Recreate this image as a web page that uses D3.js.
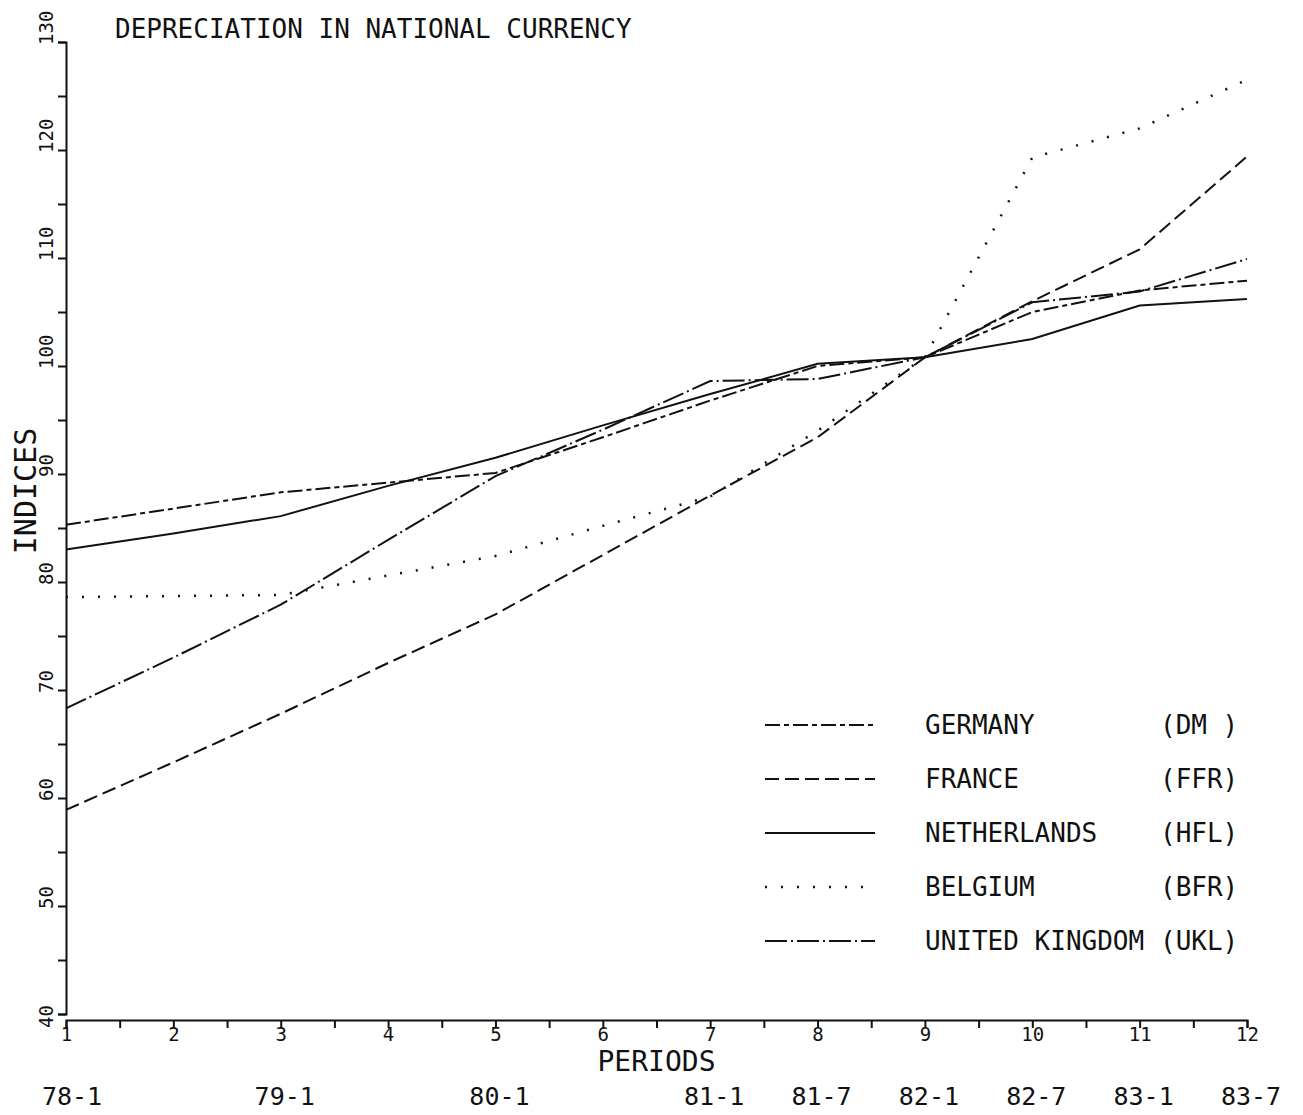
<!DOCTYPE html>
<html>
<head>
<meta charset="utf-8">
<script src="https://cdn.jsdelivr.net/npm/d3@7"></script>
<style>
  body { margin: 0; background: #fff; }
  svg { display: block; }
  text { font-family: "DejaVu Sans Mono", monospace; fill: #111; }
</style>
</head>
<body>
<div id="chart"></div>
<script>
        /* Chart data */
        var periods = [1, 2, 3, 4, 5, 6, 7, 8, 9, 10, 11, 12];
        var dateLabels = ["78-1", "", "79-1", "", "80-1", "", "81-1", "81-7", "82-1", "82-7", "83-1", "83-7"];
        var yLabelValues = [40, 50, 60, 70, 80, 90, 100, 110, 120, 130];

        var germany       = [85.3, 86.8, 88.3, 89.2, 90.1, 93.4, 96.8, 100.0, 100.8, 105.0, 107.0, 107.9];
        var france        = [58.9, 63.3, 67.8, 72.5, 77.0, 82.5, 88.0, 93.4, 100.8, 106.0, 110.8, 119.4];
        var netherlands   = [83.0, 84.5, 86.1, 88.9, 91.5, 94.5, 97.4, 100.2, 100.8, 102.5, 105.6, 106.2];
        var belgium       = [78.6, 78.7, 78.8, 80.6, 82.4, 85.2, 87.9, 94.0, 100.8, 119.3, 122.0, 126.5];
        var unitedKingdom = [68.3, 73.0, 77.9, 83.9, 89.8, 94.1, 98.6, 98.8, 100.8, 105.9, 106.9, 109.9];

        var seriesNames = ["GERMANY", "FRANCE", "NETHERLANDS", "BELGIUM", "UNITED KINGDOM"];
        var seriesCodes = ["(DM )", "(FFR)", "(HFL)", "(BFR)", "(UKL)"];

        /* line style per series (plotter pens) */
        var dashes = ["15,4,5,4", "14,6", null, "2,14", "22,4,2,4"];

        var W = 1303, H = 1115;

        var svg = d3.select("#chart").append("svg")
            .attr("width", W)
            .attr("height", H);

        svg.append("rect").attr("width", W).attr("height", H).attr("fill", "#fff");

        var x = d3.scaleLinear().domain([1, 12]).range([66, 1247]);
        var y = d3.scaleLinear().domain([40, 130]).range([1014, 42]);

        /* y axis: ticks every 5, labels every 10 drawn rotated */
        var yAxis = d3.axisLeft(y)
            .tickValues(d3.range(40, 131, 5))
            .tickSize(8)
            .tickSizeOuter(8)
            .tickFormat("");

        var gy = svg.append("g")
            .attr("transform", "translate(" + x(1) + ",0)")
            .call(yAxis);
        gy.selectAll("path, line").attr("stroke", "#111").attr("stroke-width", 2);

        svg.selectAll(".ylab")
            .data(yLabelValues)
            .enter()
            .append("text")
            .attr("class", "ylab")
            .attr("font-size", 19)
            .attr("text-anchor", "start")
            .attr("transform", function(d) {
                var yy = y(d) + (d == 40 ? 14 : 3);
                return "translate(53," + yy + ") rotate(-90)";
            })
            .text(function(d) { return d; });

        /* x axis: ticks every half period */
        var xAxis = d3.axisBottom(x)
            .tickValues(d3.range(1, 12.01, 0.5))
            .tickSize(8)
            .tickSizeOuter(8)
            .tickPadding(0)
            .tickFormat(function(d) { return d % 1 == 0 ? d : ""; });

        var gx = svg.append("g")
            .attr("transform", "translate(0," + (y(40) + 6) + ")")
            .call(xAxis);
        gx.selectAll("path, line").attr("stroke", "#111").attr("stroke-width", 2);
        gx.selectAll("text")
            .attr("font-family", "DejaVu Sans Mono, monospace")
            .attr("font-size", 19)
            .attr("fill", "#111");

        /* axis titles */
        svg.append("text")
            .attr("x", (x(1) + x(12)) / 2)
            .attr("y", 1071)
            .attr("text-anchor", "middle")
            .attr("font-size", 28)
            .text("PERIODS");

        svg.append("text")
            .attr("transform", "translate(36,491) rotate(-90)")
            .attr("text-anchor", "middle")
            .attr("font-size", 30)
            .text("INDICES");

        svg.append("text")
            .attr("x", 115)
            .attr("y", 38)
            .attr("font-size", 26)
            .text("DEPRECIATION IN NATIONAL CURRENCY");

        /* date row under the axis */
        svg.selectAll(".date")
            .data(dateLabels)
            .enter()
            .append("text")
            .attr("class", "date")
            .attr("x", function(d, i) { return x(periods[i]) + (i == 0 ? 6 : 4); })
            .attr("y", 1105)
            .attr("text-anchor", "middle")
            .attr("font-size", 25)
            .text(function(d) { return d; });

        /* series lines */
        var allSeries = [germany, france, netherlands, belgium, unitedKingdom];

        var line = d3.line()
            .x(function(d, i) { return x(periods[i]); })
            .y(function(d) { return y(d); });

        svg.selectAll(".series")
            .data(allSeries)
            .enter()
            .append("path")
            .attr("class", "series")
            .attr("d", line)
            .attr("fill", "none")
            .attr("stroke", "#111")
            .attr("stroke-width", function(d, i) { return i == 3 ? 2.5 : 2; })
            .attr("stroke-dasharray", function(d, i) { return dashes[i]; });

        /* legend */
        var legend = svg.selectAll(".legend")
            .data(seriesNames)
            .enter()
            .append("g")
            .attr("class", "legend")
            .attr("transform", function(d, i) { return "translate(0," + (725 + i * 54) + ")"; });

        legend.append("line")
            .attr("x1", 765)
            .attr("x2", 875)
            .attr("stroke", "#111")
            .attr("stroke-width", function(d, i) { return i == 3 ? 2.5 : 2; })
            .attr("stroke-dasharray", function(d, i) { return dashes[i]; });

        legend.append("text")
            .attr("x", 925)
            .attr("y", 9)
            .attr("font-size", 26)
            .text(function(d) { return d; });

        legend.append("text")
            .attr("x", 1160)
            .attr("y", 9)
            .attr("font-size", 26)
            .text(function(d, i) { return seriesCodes[i]; });
</script>
</body>
</html>
